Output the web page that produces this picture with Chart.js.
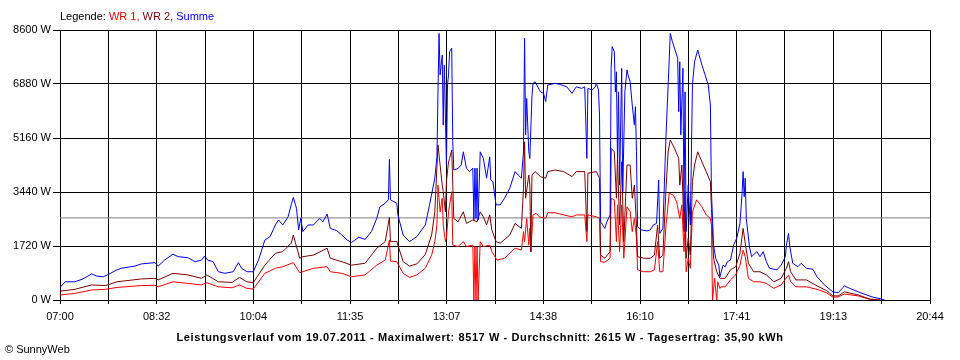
<!DOCTYPE html>
<html lang="de">
<head>
<meta charset="utf-8">
<title>Leistungsverlauf 19.07.2011</title>
<script src="https://cdn.jsdelivr.net/npm/chart.js@4.4.1/dist/chart.umd.min.js"></script>
<style>
    body { margin: 0; background: #fff; font-family: "Liberation Sans", Arial, sans-serif; }
    #wrap { position: relative; width: 960px; height: 360px; }
    #chart { position: absolute; left: 0; top: 0; }
    .txt { position: absolute; font-size: 11px; line-height: 13px; color: #000; white-space: nowrap; }
    #legend { left: 60px; top: 10px; }
    #title { left: 0; width: 960px; top: 331px; text-align: center; font-weight: bold; letter-spacing: 0.6px; }
    #copy { left: 5px; top: 343px; }
</style>
</head>
<body>
<div id="wrap">
    <canvas id="chart" width="960" height="360"></canvas>
    <div class="txt" id="legend">Legende: <span style="color:#ff0000">WR 1,</span> <span style="color:#800000">WR 2,</span> <span style="color:#0000ff">Summe</span></div>
    <div class="txt" id="title">Leistungsverlauf vom 19.07.2011 - Maximalwert: 8517 W - Durchschnitt: 2615 W - Tagesertrag: 35,90 kWh</div>
    <div class="txt" id="copy">© SunnyWeb</div>
</div>
<script>
/* x = minutes after 07:00, axis runs to 20:44 */
const xMax = 824;
const xLabels = ["07:00", "08:32", "10:04", "11:35", "13:07", "14:38", "16:10", "17:41", "19:13", "20:44"];
const yMax = 8600;
const yStep = 1720;
const average = 2615;

/* Summe */
const tSum = [
    0, 5, 14, 21, 30, 35, 41, 45, 54, 58,
    71, 77, 90, 93, 99, 107, 112, 121, 128, 134,
    137, 140, 145, 150, 156, 164, 169, 172, 177, 183,
    188, 194, 199, 204, 207, 211, 216, 219, 221, 224,
    226, 228, 230, 235, 240, 246, 249, 253, 256, 262,
    267, 272, 276, 283, 289, 295, 300, 303, 308, 311,
    312, 313, 319, 320, 325, 331, 338, 346, 350, 355,
    357, 358, 359, 360, 362, 363, 364, 366, 367, 368,
    369, 371, 372, 373, 377, 380, 382, 385, 388, 391,
    392, 393, 394, 395, 396, 398, 401, 404, 407, 408,
    410, 413, 417, 421, 426, 431, 434, 437, 439, 440,
    441, 442, 444, 445, 447, 448, 450, 455, 458, 460,
    462, 469, 473, 480, 485, 489, 494, 497, 499, 500,
    504, 507, 508, 510, 511, 512, 514, 516, 518, 521,
    522, 523, 525, 526, 527, 528, 529, 530, 532, 533,
    535, 537, 538, 540, 542, 544, 545, 546, 547, 551,
    556, 559, 562, 565, 567, 568, 571, 574, 576, 578,
    580, 582, 585, 586, 587, 588, 590, 591, 592, 593,
    595, 597, 599, 601, 604, 608, 611, 614, 616, 617,
    619, 621, 624, 625, 628, 630, 632, 635, 638, 641,
    644, 646, 647, 648, 649, 650, 653, 655, 660, 663,
    666, 669, 672, 679, 683, 687, 688, 690, 691, 694,
    699, 702, 707, 713, 717, 724, 732, 737, 743, 748,
    756, 764, 770, 777, 781
];
const vSum = [
    400, 580, 580, 660, 830, 760, 740, 800, 960, 1010,
    1080, 1150, 1190, 1080, 1270, 1460, 1380, 1350, 1220, 1270,
    1400, 1270, 1220, 900, 850, 900, 1190, 1010, 900, 900,
    1270, 1910, 2020, 2390, 2550, 2390, 2650, 3030, 3270, 2920,
    2230, 2600, 2180, 2390, 2390, 2600, 2490, 2740, 2280, 2210,
    2070, 1910, 1830, 2000, 1930, 2180, 2600, 2970, 3080, 3190,
    4480, 3190, 3080, 2710, 2070, 1860, 2020, 2390, 3030, 3880,
    4560, 6630, 8490, 7170, 7800, 5570, 7480, 4300, 6850, 7170,
    7910, 8020, 5040, 4140, 4190, 4300, 4720, 4190, 4090, 4200,
    2550, 4200, 2600, 4200, 2550, 4720, 4510, 3880, 4560, 3820,
    3770, 3030, 3030, 3240, 3560, 4090, 3980, 3880, 4720, 8340,
    5260, 6420, 4720, 4510, 6500, 6900, 6950, 6630, 6580, 6320,
    6850, 6900, 6870, 6790, 6580, 6790, 6740, 6790, 4510, 6740,
    6690, 6790, 6900, 6690, 5890, 2490, 2390, 2280, 2490, 2710,
    7380, 8070, 7910, 6630, 7270, 4510, 6630, 3660, 7380, 3450,
    6630, 7330, 7170, 6950, 6210, 5570, 6160, 4720, 2330, 2230,
    2200, 2230, 2390, 2440, 3820, 2120, 2280, 5260, 6850, 8490,
    8230, 8020, 7700, 6000, 7590, 5260, 7380, 2810, 6630, 2180,
    3660, 2390, 6850, 7590, 7960, 7480, 7170, 6850, 6210, 3450,
    1750, 1330, 1110, 740, 1110, 1060, 1220, 1270, 1750, 1970,
    2440, 3400, 4090, 3290, 3880, 2600, 1700, 1380, 1540, 1380,
    1540, 1220, 1010, 960, 1110, 1380, 1750, 2120, 1750, 1170,
    1060, 1170, 1010, 980, 740, 480, 260, 230, 450, 370,
    260, 160, 90, 40, 0
];

/* WR 2 */
const tWr2 = [
    0, 14, 30, 43, 54, 77, 90, 93, 107, 121,
    134, 139, 150, 163, 170, 177, 183, 194, 204, 211,
    219, 221, 224, 227, 230, 240, 253, 256, 267, 276,
    289, 300, 308, 312, 313, 319, 325, 331, 338, 346,
    352, 355, 358, 360, 362, 363, 365, 366, 368, 369,
    371, 373, 377, 382, 385, 391, 395, 398, 401, 404,
    407, 409, 413, 417, 426, 431, 437, 439, 440, 441,
    444, 445, 446, 447, 450, 455, 460, 462, 469, 477,
    485, 489, 497, 499, 500, 508, 511, 512, 516, 521,
    522, 525, 527, 528, 530, 532, 534, 537, 540, 542,
    544, 546, 547, 553, 559, 563, 566, 568, 571, 574,
    576, 578, 582, 586, 587, 589, 591, 592, 593, 595,
    597, 599, 601, 604, 608, 612, 616, 617, 619, 622,
    625, 630, 635, 640, 644, 647, 649, 652, 657, 663,
    669, 676, 683, 688, 690, 692, 697, 707, 717, 726,
    732, 737, 743, 756, 767, 777
];
const vWr2 = [
    280, 340, 480, 460, 580, 670, 690, 640, 850, 800,
    690, 800, 580, 560, 720, 580, 550, 1110, 1490, 1540,
    1810, 2070, 1700, 1330, 1380, 1430, 1650, 1330, 1220, 1110,
    1170, 1650, 1860, 2630, 1860, 1860, 1220, 1080, 1150, 1450,
    2070, 2810, 4940, 4300, 3660, 3450, 2810, 3770, 4400, 4510,
    4780, 2600, 2490, 2810, 2440, 2550, 2490, 2810, 2650, 2390,
    2710, 2230, 1860, 1810, 2070, 2440, 2280, 3560, 5040, 3240,
    3980, 3660, 1540, 3980, 4090, 3930, 3880, 4090, 4140, 4090,
    3930, 4090, 4090, 2180, 4040, 4090, 3880, 1430, 1330, 1540,
    4830, 4720, 3240, 4510, 2390, 4400, 1860, 4300, 4300, 3240,
    3660, 2390, 1380, 1330, 1330, 1430, 2390, 1330, 1430, 3560,
    4720, 5100, 4830, 4510, 3660, 4300, 2180, 3450, 1330, 1970,
    1430, 3770, 4300, 4720, 4400, 4090, 3770, 2920, 1330, 900,
    690, 690, 960, 1060, 1490, 2280, 1810, 1170, 900, 900,
    800, 580, 690, 1010, 1220, 900, 640, 640, 450, 300,
    130, 130, 260, 160, 30, 0
];

/* WR 1 */
const tWr1 = [
    0, 14, 30, 43, 54, 77, 90, 93, 107, 121,
    134, 139, 150, 163, 170, 177, 183, 194, 204, 211,
    221, 227, 240, 253, 256, 267, 276, 289, 300, 308,
    312, 313, 319, 325, 331, 338, 346, 352, 355, 357,
    358, 360, 362, 363, 365, 366, 368, 369, 371, 372,
    377, 382, 385, 391, 392, 393, 394, 395, 396, 398,
    401, 407, 409, 414, 421, 431, 437, 439, 440, 442,
    444, 445, 446, 448, 451, 454, 460, 462, 469, 477,
    485, 489, 497, 499, 500, 508, 511, 512, 516, 521,
    522, 525, 527, 528, 530, 532, 534, 537, 540, 542,
    544, 546, 547, 553, 559, 563, 566, 568, 571, 574,
    577, 581, 584, 587, 589, 591, 592, 593, 595, 597,
    599, 603, 608, 612, 616, 617, 618, 620, 622, 623,
    625, 626, 630, 635, 640, 644, 647, 649, 652, 657,
    663, 669, 676, 683, 690, 692, 697, 707, 717, 726,
    732, 737, 743, 756, 767, 777
];
const vWr1 = [
    160, 210, 320, 340, 400, 460, 470, 420, 580, 530,
    480, 550, 420, 390, 480, 370, 350, 850, 1010, 1060,
    1190, 870, 1010, 1060, 900, 850, 740, 800, 1110, 1270,
    1910, 1240, 1220, 850, 720, 800, 1010, 1430, 1860, 2390,
    3660, 2810, 3240, 2390, 1860, 1970, 2810, 3030, 3450, 1750,
    1700, 1860, 1700, 1750, 0, 1700, 0, 1700, 0, 1860,
    1700, 1750, 1540, 1270, 1330, 1650, 1590, 2180, 1860, 2600,
    1750, 2280, 1540, 2710, 2760, 2650, 2600, 2780, 2780, 2710,
    2650, 2710, 2710, 1860, 2710, 2650, 2600, 1220, 1200, 1330,
    3240, 3190, 1860, 3030, 1540, 3030, 1330, 2970, 2810, 2180,
    2600, 1970, 960, 900, 900, 960, 1860, 900, 900, 2390,
    3400, 3340, 3130, 2600, 3030, 1540, 2600, 900, 1330, 1010,
    2810, 3190, 2970, 2710, 2600, 2390, 0, 690, 0, 580,
    370, 420, 420, 640, 800, 1110, 1590, 1380, 690, 580,
    580, 530, 370, 480, 800, 580, 420, 420, 340, 230,
    90, 100, 190, 130, 20, 0
];

function toPoints(times, values) {
    return times.map((t, i) => ({ x: t, y: values[i] }));
}

function series(label, times, values, color, order) {
    return {
        label: label,
        data: toPoints(times, values),
        borderColor: color,
        borderWidth: 1,
        borderJoinStyle: "bevel",
        pointRadius: 0,
        tension: 0,
        fill: false,
        order: order
    };
}

Chart.defaults.font.family = "'Liberation Sans', Arial, sans-serif";
Chart.defaults.font.size = 11;
Chart.defaults.color = "#000";

new Chart(document.getElementById("chart"), {
    type: "line",
    data: {
        datasets: [
            series("Durchschnitt", [0, xMax], [average, average], "#808080", 4),
            series("WR 1", tWr1, vWr1, "#ff0000", 3),
            series("WR 2", tWr2, vWr2, "#800000", 2),
            series("Summe", tSum, vSum, "#0000ff", 1)
        ]
    },
    options: {
        responsive: false,
        animation: false,
        events: [],
        layout: { padding: { left: 0, top: 30, right: 30, bottom: 0 } },
        plugins: {
            legend: { display: false },
            tooltip: { enabled: false }
        },
        scales: {
            x: {
                type: "linear",
                min: 0,
                max: xMax,
                afterBuildTicks: (scale) => {
                    /* 18 grid intervals, every second one labelled */
                    scale.ticks = Array.from({ length: 19 }, (_, i) => ({ value: i * xMax / 18 }));
                },
                afterFit: (scale) => { scale.height = 60; },
                grid: { color: "#000", lineWidth: 1, tickLength: 4, drawTicks: true },
                border: { color: "#000" },
                ticks: {
                    autoSkip: false,
                    maxRotation: 0,
                    padding: 6,
                    callback: (value, index) => index % 2 === 0 ? xLabels[index / 2] : ""
                }
            },
            y: {
                min: 0,
                max: yMax,
                afterFit: (scale) => { scale.width = 60; },
                grid: { color: "#000", lineWidth: 1, tickLength: 7, drawTicks: true },
                border: { color: "#000" },
                ticks: {
                    stepSize: yStep,
                    padding: 2,
                    callback: (value) => value + " W"
                }
            }
        }
    }
});
</script>
</body>
</html>
